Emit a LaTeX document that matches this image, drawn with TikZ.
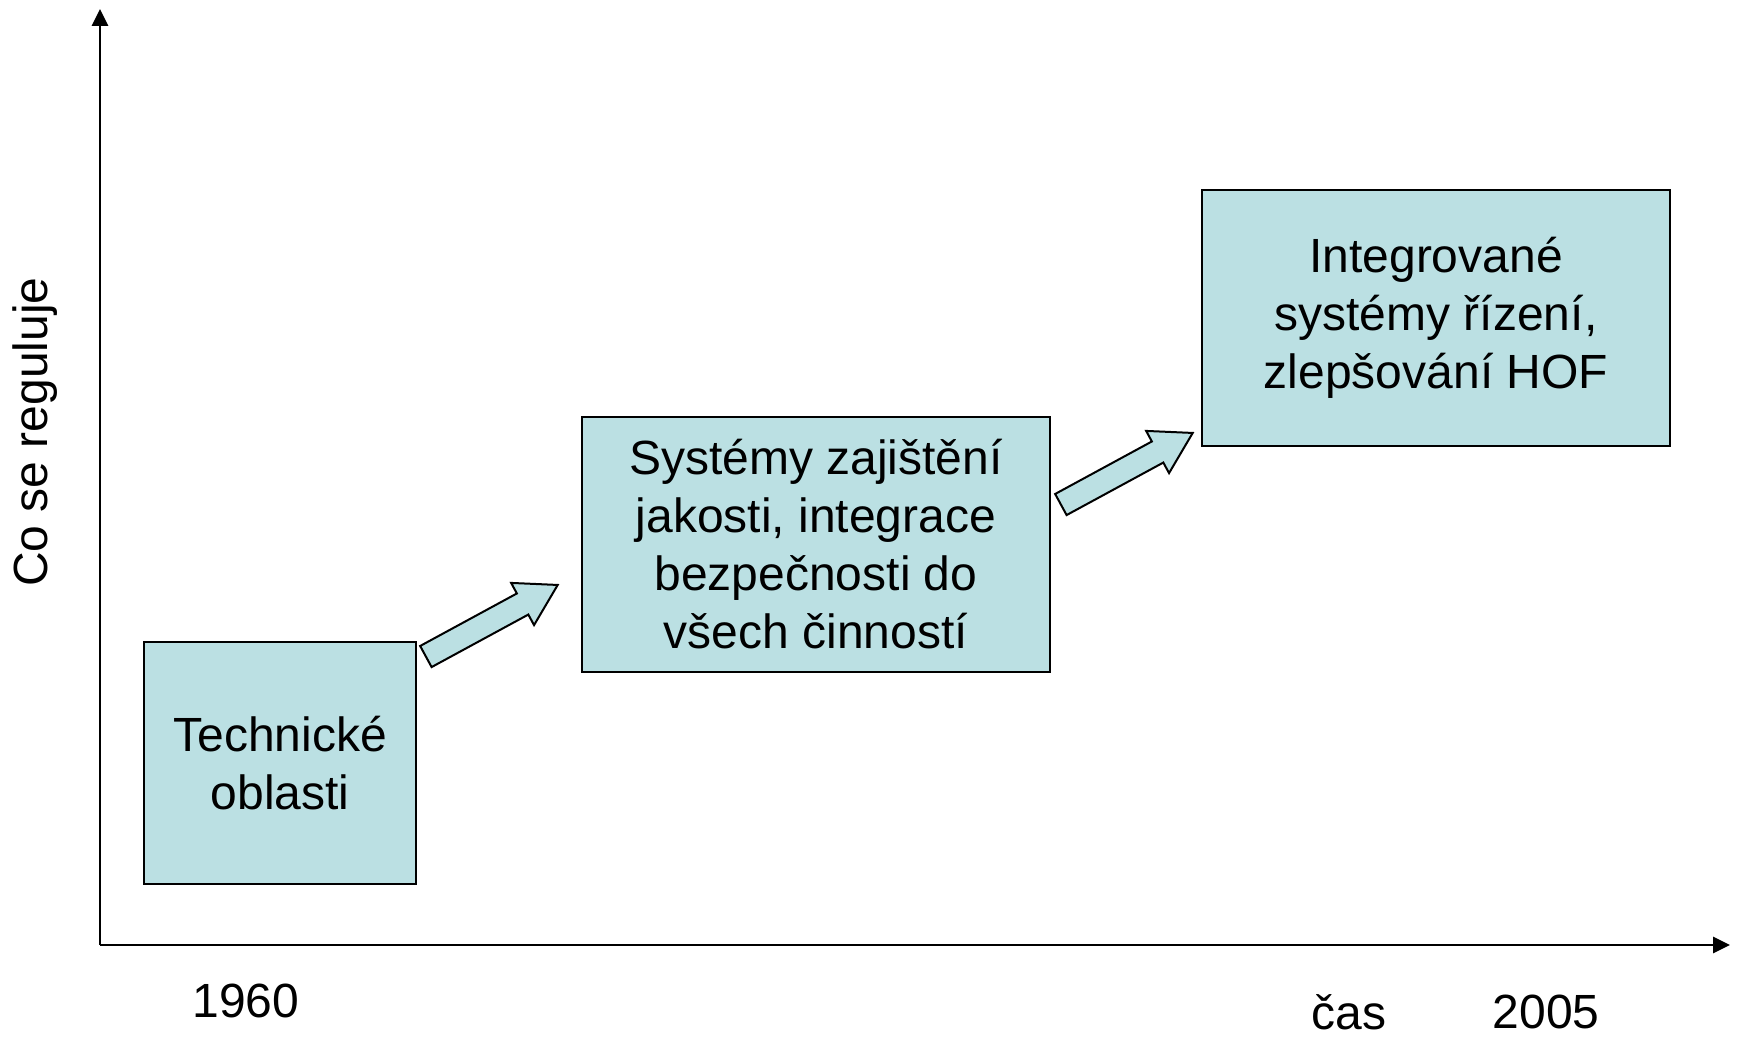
\documentclass[tikz,border=0pt]{standalone}
\usepackage{fontspec}
\setmainfont{Liberation Sans}
\usetikzlibrary{arrows.meta,shapes.arrows}
\definecolor{boxfill}{HTML}{BBE0E3}
\tikzset{
  stagebox/.style={draw=black,line width=1pt,fill=boxfill,align=center,
    inner sep=0pt,font=\fontsize{24}{29}\selectfont},
  stagearrow/.style={single arrow,draw=black,line width=1pt,fill=boxfill,
    minimum height=75pt,single arrow head extend=6pt,anchor=tail,
    single arrow tip angle=62,inner xsep=0pt,inner ysep=5.5pt,rotate=28.5},
  axislabel/.style={inner sep=0pt,font=\fontsize{24}{29}\selectfont}
}
\begin{document}
\begin{tikzpicture}[x=0.5pt,y=-0.5pt]
            \useasboundingbox (0,0) rectangle (1739,1037);
            \coordinate (o) at (100,945);
            \coordinate (ytop) at (100,9);
            \coordinate (xend) at (1730,945);
            \draw[line width=1.4pt,-{Triangle[length=8.5pt,width=8pt]}] (o) -- (ytop);
            \draw[line width=1.4pt,-{Triangle[length=8.5pt,width=8pt]}] (o) -- (xend);
            \node[axislabel,rotate=90] (ylab) at (35,432) {Co se reguluje};
            \node[axislabel] (start) at (246,1001) {1960};
            \node[axislabel] (xlab) at (1349,1012) {čas};
            \node[axislabel] (end) at (1546,1012) {2005};
            \node[stagebox,minimum width=136pt,minimum height=121pt] (tech) at (280,763)
              {Technické\\oblasti};
            \node[stagebox,minimum width=234pt,minimum height=127.5pt] (qual) at (816,544.5)
              {Systémy zajištění\\jakosti, integrace\\bezpečnosti do\\všech činností};
            \node[stagebox,minimum width=234pt,minimum height=128pt] (integ) at (1436,318)
              {Integrované\\systémy řízení,\\zlepšování HOF};
            \node[stagearrow] (step1) at (425,657) {};
            \node[stagearrow] (step2) at (1060,505) {};
          \end{tikzpicture}
\end{document}
